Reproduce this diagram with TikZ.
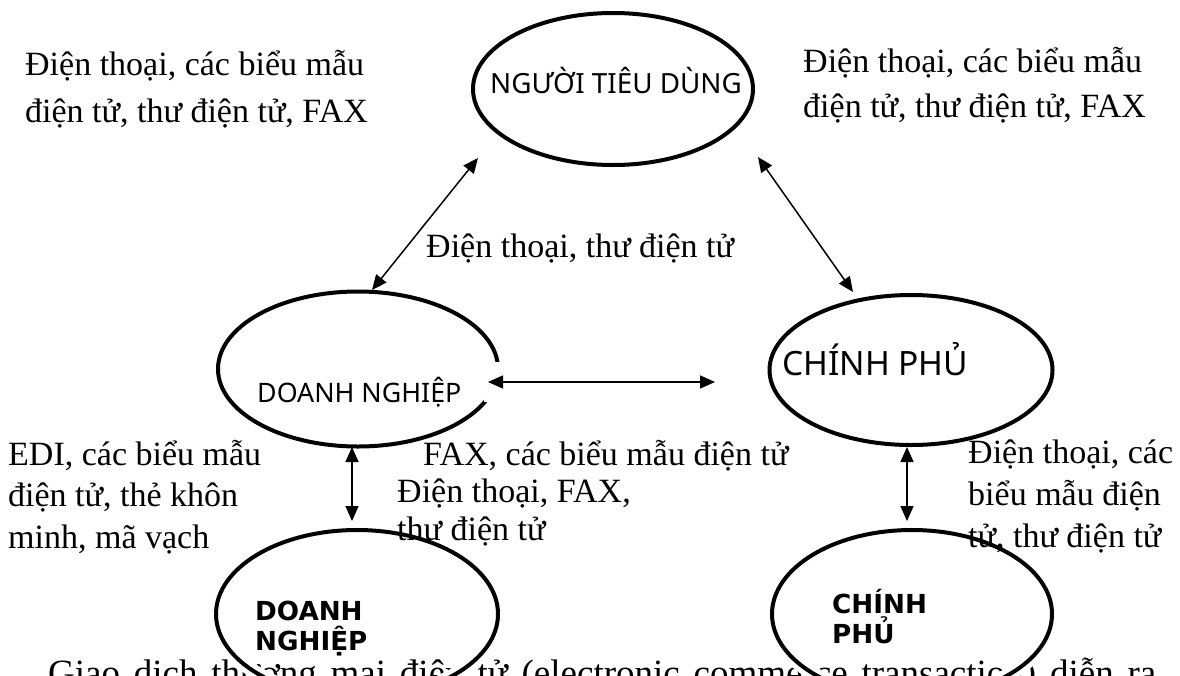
\documentclass[tikz,border=0pt]{standalone}
\usepackage{fontspec}
\setmainfont{Liberation Serif}
\newfontfamily\boxfont{Noto Sans}
\newfontfamily\boldboxfont{DejaVu Sans}
\usepackage{tikz}
\usetikzlibrary{shapes.geometric, arrows.meta}
\tikzstyle{oval} = [ellipse, draw=black, line width=4pt, inner sep=0pt]
\tikzstyle{halo} = [preaction={draw=white, line width=14pt}]
\tikzstyle{arrow} = [line width=1.5pt, {Triangle[length=15pt,width=13pt]}-{Triangle[length=15pt,width=13pt]}]
\tikzstyle{note} = [anchor=base west, inner sep=0pt, align=left]
\tikzstyle{inoval} = [anchor=base west, inner sep=0pt, align=left]
\newcommand{\notesize}[1]{\fontsize{34}{#1}\selectfont}

\begin{document}
\begin{tikzpicture}[x=1pt, y=-1pt]
    \useasboundingbox (0,0) rectangle (1180,675);
    \clip (0,0) rectangle (1180,675);

    % running text below the figure
    \node[note, font=\fontsize{37}{40}\selectfont] (body) at (48,685)
        {\makebox[1108pt][s]{Giao dịch thương mại điện tử (electronic commerce transaction) diễn ra}};

    % the five parties
    \node[oval, minimum width=280pt, minimum height=152pt] (ntd) at (613,89) {};
    \node[oval, minimum width=280pt, minimum height=155pt] (dn) at (358,369) {};
    \node[oval, minimum width=283pt, minimum height=150pt] (cp) at (911,370) {};
    \node[oval, halo, minimum width=282pt, minimum height=168pt] (dnb) at (357,614) {};
    \node[oval, halo, minimum width=280pt, minimum height=168pt] (cpb) at (912,614) {};
    \fill[white] (484,362) rectangle (503,402);

    % multi-line nodes sit on the baseline of their last line
    \node[inoval, font=\boxfont\fontsize{27.8}{30}\selectfont] (ntdtext) at (490,93) {NG^^^^01af^^^^1edcI TI^^^^00caU D^^^^00d9NG};
    \node[inoval, font=\boxfont\fontsize{26.8}{30}\selectfont] (dntext) at (257,402) {DOANH NGHI^^^^1ec6P};
    \node[inoval, font=\boxfont\fontsize{33.5}{36}\selectfont] (cptext) at (782,375) {CH^^^^00cdNH PH^^^^1ee6};
    \node[inoval, font=\boldboxfont\bfseries\fontsize{26.2}{30}\selectfont] (dnbtext) at (255,650) {DOANH\\NGHI^^^^1ec6P};
    \node[inoval, font=\boldboxfont\bfseries\fontsize{26.2}{30}\selectfont] (cpbtext) at (832,643) {CH^^^^00cdNH\\PH^^^^1ee6};

    % arrow ends
    \coordinate (dnTop) at (372,290);
    \coordinate (ntdLeft) at (478,158);
    \coordinate (ntdRight) at (758,157);
    \coordinate (cpTop) at (853,292);
    \coordinate (dnRight) at (488,382);
    \coordinate (cpLeft) at (715,382);
    \coordinate (dnLow) at (352,447);
    \coordinate (dnbTop) at (352,521);
    \coordinate (cpLow) at (907,447);
    \coordinate (cpbTop) at (907,521);

    \path [arrow] (dnTop) edge (ntdLeft);
    \path [arrow] (ntdRight) edge (cpTop);
    \path [arrow] (dnRight) edge (cpLeft);
    \path [arrow] (dnLow) edge (dnbTop);
    \path [arrow] (cpLow) edge (cpbTop);

    % channels
    \node[note, font=\notesize{47}] (tlnote) at (25,122) {Điện thoại, các biểu mẫu\\điện tử, thư điện tử, FAX};
    \node[note, font=\notesize{45}] (trnote) at (803,117) {Điện thoại, các biểu mẫu\\điện tử, thư điện tử, FAX};
    \node[note, font=\notesize{40}] (midnote) at (426,257) {Điện thoại, thư điện tử};
    \node[note, font=\notesize{41.5}] (edinote) at (8,548) {EDI, các biểu mẫu\\điện tử, thẻ khôn\\minh, mã vạch};
    \node[note, font=\notesize{40}] (faxnote) at (423,465) {FAX, các biểu mẫu điện tử};
    \node[note, font=\notesize{38}] (dnnote) at (397,540) {Điện thoại, FAX,\\thư điện tử};
    \node[note, font=\notesize{42}] (cpnote) at (968,547) {Điện thoại, các\\biểu mẫu điện\\tử, thư điện tử};
\end{tikzpicture}
\end{document}
